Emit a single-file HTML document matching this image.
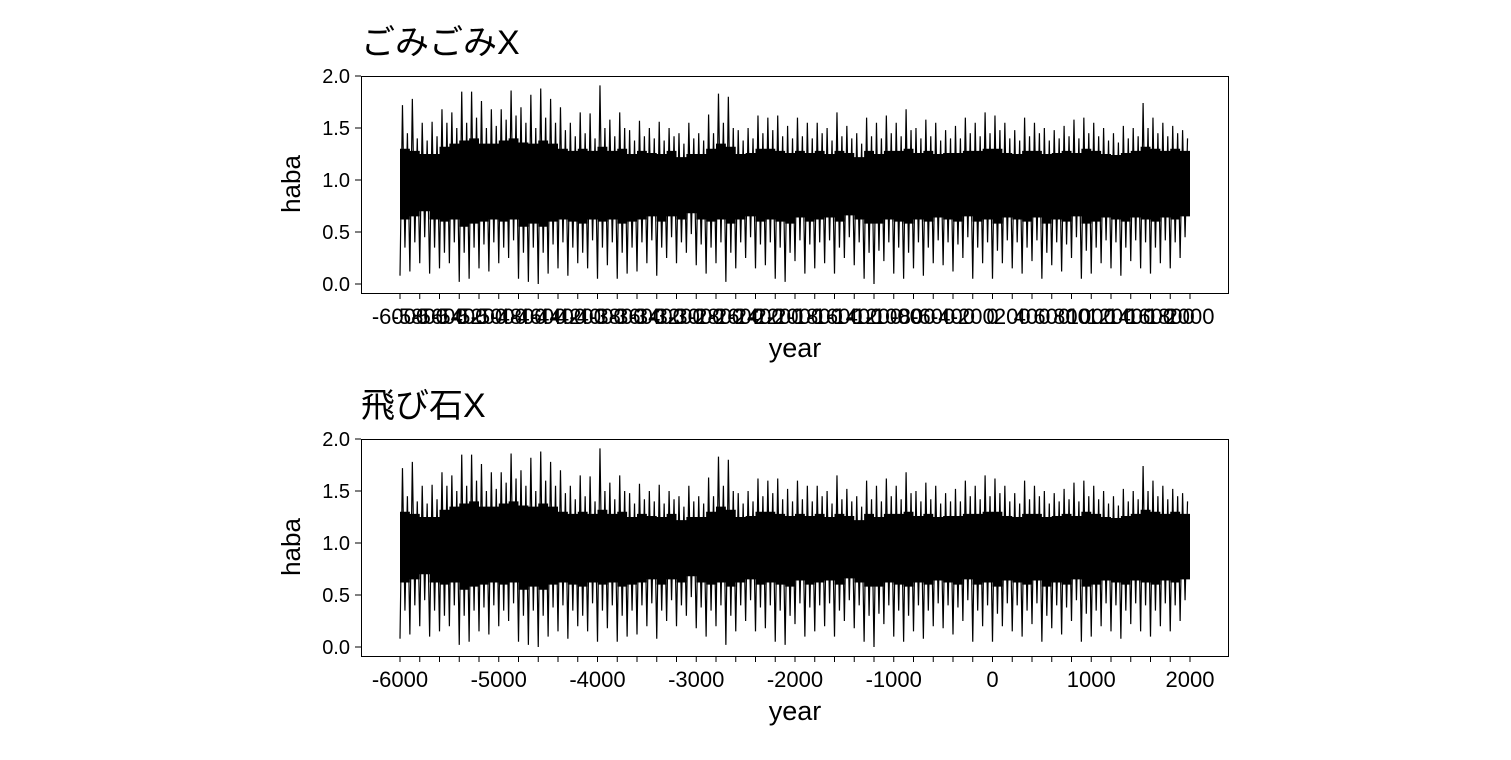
<!DOCTYPE html>
<html><head><meta charset="utf-8">
<style>
html,body{margin:0;padding:0;background:#fff;}
svg text{font-family:"Liberation Sans","Noto Sans CJK JP",sans-serif;fill:#000;}
</style></head>
<body>
<svg id="chart" width="1511" height="755" xmlns="http://www.w3.org/2000/svg"></svg>
<script>
const binStarts = [];
for (let y = -6000; y < 2000; y += 100) binStarts.push(y);
const hiVals = [1.72,1.78,1.55,1.56,1.68,1.65,1.85,1.85,1.76,1.68,1.68,1.86,1.70,1.82,1.88,1.78,1.70,1.55,1.65,1.64,1.91,1.58,1.65,1.48,1.57,1.50,1.56,1.50,1.45,1.55,1.45,1.63,1.83,1.80,1.48,1.50,1.62,1.60,1.62,1.52,1.60,1.55,1.55,1.50,1.65,1.52,1.45,1.60,1.55,1.62,1.55,1.68,1.50,1.58,1.55,1.48,1.52,1.60,1.55,1.65,1.62,1.55,1.48,1.60,1.55,1.50,1.48,1.52,1.58,1.60,1.55,1.50,1.45,1.52,1.50,1.74,1.60,1.55,1.52,1.48];
const loVals = [0.08,0.12,0.20,0.10,0.15,0.20,0.02,0.05,0.15,0.12,0.20,0.25,0.05,0.02,0.00,0.10,0.15,0.08,0.20,0.15,0.05,0.18,0.05,0.10,0.12,0.20,0.08,0.25,0.20,0.30,0.18,0.10,0.20,0.02,0.15,0.25,0.15,0.18,0.05,0.02,0.22,0.10,0.15,0.20,0.10,0.25,0.18,0.05,0.00,0.22,0.10,0.05,0.15,0.08,0.20,0.18,0.12,0.25,0.05,0.20,0.05,0.20,0.15,0.10,0.22,0.05,0.18,0.12,0.25,0.05,0.10,0.20,0.15,0.08,0.22,0.15,0.10,0.20,0.15,0.25];
const hi2Vals = [1.45,1.40,1.38,1.42,1.55,1.50,1.55,1.60,1.50,1.52,1.58,1.62,1.55,1.50,1.60,1.55,1.48,1.42,1.45,1.40,1.50,1.42,1.50,1.38,1.42,1.40,1.38,1.42,1.35,1.40,1.38,1.45,1.55,1.50,1.38,1.40,1.45,1.48,1.42,1.40,1.42,1.40,1.45,1.38,1.42,1.40,1.35,1.42,1.40,1.45,1.42,1.48,1.40,1.42,1.38,1.40,1.40,1.45,1.42,1.45,1.48,1.40,1.38,1.42,1.45,1.38,1.40,1.42,1.40,1.45,1.42,1.38,1.36,1.40,1.42,1.50,1.45,1.42,1.45,1.40];
const lo2Vals = [0.35,0.40,0.45,0.35,0.30,0.40,0.30,0.35,0.38,0.40,0.35,0.42,0.30,0.35,0.30,0.38,0.40,0.35,0.30,0.42,0.35,0.40,0.30,0.35,0.40,0.42,0.35,0.45,0.40,0.48,0.38,0.35,0.40,0.30,0.40,0.45,0.38,0.40,0.35,0.30,0.42,0.38,0.40,0.42,0.35,0.45,0.40,0.30,0.32,0.40,0.35,0.30,0.40,0.35,0.42,0.40,0.38,0.45,0.35,0.40,0.32,0.42,0.40,0.35,0.42,0.30,0.40,0.38,0.45,0.32,0.35,0.42,0.40,0.35,0.42,0.40,0.35,0.42,0.40,0.45];
const bandHiVals = [1.30,1.28,1.25,1.25,1.32,1.35,1.38,1.40,1.35,1.35,1.38,1.40,1.36,1.35,1.38,1.35,1.30,1.28,1.30,1.28,1.32,1.28,1.30,1.25,1.28,1.26,1.25,1.28,1.22,1.25,1.25,1.30,1.35,1.32,1.25,1.26,1.30,1.30,1.28,1.26,1.28,1.26,1.28,1.25,1.28,1.26,1.22,1.28,1.25,1.28,1.28,1.30,1.26,1.28,1.25,1.26,1.26,1.28,1.28,1.30,1.30,1.26,1.25,1.28,1.28,1.25,1.26,1.28,1.26,1.30,1.28,1.25,1.24,1.26,1.28,1.32,1.30,1.28,1.30,1.28];
const bandLoVals = [0.62,0.65,0.70,0.62,0.60,0.62,0.55,0.58,0.60,0.62,0.60,0.62,0.55,0.58,0.55,0.60,0.62,0.60,0.58,0.62,0.60,0.62,0.58,0.60,0.62,0.65,0.60,0.65,0.62,0.68,0.62,0.60,0.62,0.58,0.62,0.65,0.60,0.62,0.60,0.58,0.64,0.60,0.62,0.64,0.60,0.66,0.62,0.58,0.58,0.62,0.60,0.58,0.62,0.60,0.64,0.62,0.60,0.65,0.60,0.62,0.58,0.64,0.62,0.60,0.64,0.58,0.62,0.60,0.65,0.58,0.60,0.64,0.62,0.60,0.64,0.62,0.60,0.64,0.62,0.65];
const yTickVals = [0.0, 0.5, 1.0, 1.5, 2.0];
const xTicks = [];
for (let y = -6000; y <= 2000; y += 200) xTicks.push(y);
const xLabelsBottom = [-6000,-5000,-4000,-3000,-2000,-1000,0,1000,2000];

const NS = "http://www.w3.org/2000/svg";
const svg = document.getElementById('chart');
function mk(tag, attrs, parent){const e=document.createElementNS(NS,tag);for(const k in attrs)e.setAttribute(k,attrs[k]);(parent||svg).appendChild(e);return e;}

function panel(top, title, allLabels, key){
  const g = mk('g',{});
  
  
  const X = yr => 400 + (yr + 6000) * 0.09875;
  const Y = v => top + 208 - v * 104;
  const t = mk('text',{x:361,y:top-22,'font-size':34},g); t.textContent = title;
  
  
  const box = mk('rect',{x:361.5,y:top+0.5,width:867,height:217,fill:'none',stroke:'#000','stroke-width':1},g);
  
  
  const ya = mk('g',{},g);
  
  
  yTickVals.forEach(v=>{
    mk('line',{x1:355,x2:361,y1:Y(v),y2:Y(v),stroke:'#000'},ya);
    const tx = mk('text',{x:350,y:Y(v)+7,'font-size':20,'text-anchor':'end'},ya); tx.textContent=v.toFixed(1);
  });
  const yt = mk('text',{x:300,y:top+108,'font-size':26,'text-anchor':'middle',transform:`rotate(-90 300 ${top+108})`},g);
  yt.textContent='haba';
  
  
  const xa = mk('g',{},g);
  
  
  xTicks.forEach(v=>{
    mk('line',{x1:X(v),x2:X(v),y1:top+217,y2:top+223,stroke:'#000'},xa);
    if (allLabels || xLabelsBottom.includes(v)){
      const tx = mk('text',{x:X(v),y:top+248,'font-size':22,'text-anchor':'middle'},xa); tx.textContent=String(v);
    }
  });
  const xt = mk('text',{x:795,y:top+281,'font-size':27,'text-anchor':'middle'},g);
  xt.textContent='year';
  
  
  let band = '';
  let d = '';
  binStarts.forEach((b,i)=>{
    const w = 100;
    const x0 = X(b);
    band += (i?'L':'M') + x0 + ',' + Y(bandHiVals[i]) + ' L' + X(b+w) + ',' + Y(bandHiVals[i]) + ' ';
    d += (i?'L':'M') + x0 + ',' + Y(loVals[i]) + ' L' + X(b+w*0.25) + ',' + Y(hiVals[i]) + ' L' + X(b+w*0.5) + ',' + Y(lo2Vals[i]) + ' L' + X(b+w*0.75) + ',' + Y(hi2Vals[i]) + ' ';
  });
  for (let i = binStarts.length-1; i >= 0; i--) {
    band += 'L' + X(binStarts[i]+100) + ',' + Y(bandLoVals[i]) + ' L' + X(binStarts[i]) + ',' + Y(bandLoVals[i]) + ' ';
  }
  const bp = mk('path',{d:band+'Z',fill:'#000'},g);
  
  
  const lp = mk('path',{d:d,fill:'none',stroke:'#000','stroke-width':1.2},g);
  
  
}
panel(76, 'ごみごみX', true, 'top');
panel(439, '飛び石X', false, 'bottom');
</script>
</body></html>
